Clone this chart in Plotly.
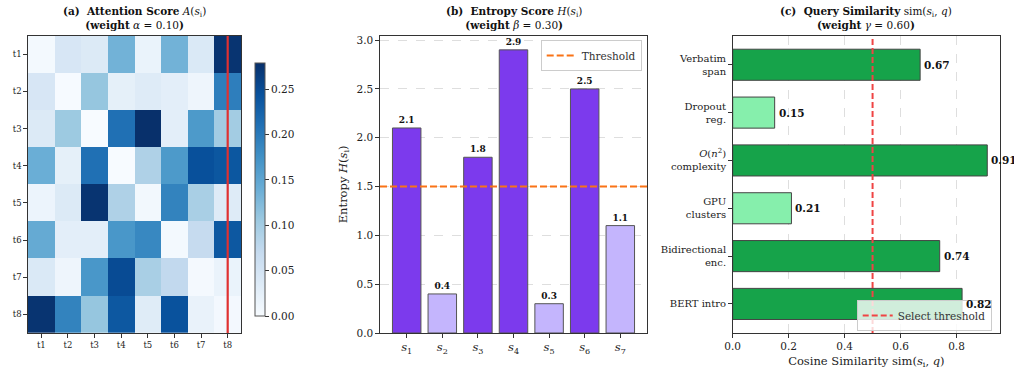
import plotly.graph_objects as go

# ---------------- data ----------------
tokens = ["t1", "t2", "t3", "t4", "t5", "t6", "t7", "t8"]
attn_t1 = [0.005, 0.045, 0.038, 0.135, 0.018, 0.135, 0.040, 0.275]
attn_t2 = [0.045, 0.002, 0.110, 0.025, 0.035, 0.028, 0.012, 0.195]
attn_t3 = [0.038, 0.105, 0.000, 0.210, 0.279, 0.028, 0.165, 0.100]
attn_t4 = [0.140, 0.025, 0.210, 0.000, 0.090, 0.165, 0.245, 0.238]
attn_t5 = [0.015, 0.038, 0.275, 0.090, 0.007, 0.190, 0.095, 0.035]
attn_t6 = [0.145, 0.028, 0.028, 0.168, 0.185, 0.005, 0.070, 0.237]
attn_t7 = [0.040, 0.013, 0.168, 0.250, 0.095, 0.073, 0.004, 0.018]
attn_t8 = [0.275, 0.190, 0.110, 0.237, 0.033, 0.243, 0.020, 0.006]
attn = [attn_t1, attn_t2, attn_t3, attn_t4, attn_t5, attn_t6, attn_t7, attn_t8]
highlight_token = 7

sentences = ["<i>s</i><sub>1</sub>", "<i>s</i><sub>2</sub>", "<i>s</i><sub>3</sub>", "<i>s</i><sub>4</sub>",
             "<i>s</i><sub>5</sub>", "<i>s</i><sub>6</sub>", "<i>s</i><sub>7</sub>"]
entropy = [2.1, 0.4, 1.8, 2.9, 0.3, 2.5, 1.1]
entropy_threshold = 1.5

sim_labels = ["BERT intro", "Bidirectional<br>enc.", "GPU<br>clusters",
              "<i>O</i>(<i>n</i><sup>2</sup>)<br>complexity", "Dropout<br>reg.", "Verbatim<br>span"]
similarity = [0.82, 0.74, 0.21, 0.91, 0.15, 0.67]
sim_threshold = 0.5

# ---------------- styling ----------------
W, H = 1014, 376
FONT = "DejaVu Serif"
SPINE = "#333333"
blues = [[0.0, "#f7fbff"], [0.125, "#deebf7"], [0.25, "#c6dbef"], [0.375, "#9ecae1"],
         [0.5, "#6baed6"], [0.625, "#4292c6"], [0.75, "#2171b5"], [0.875, "#08519c"], [1.0, "#08306b"]]
ydom = [1 - 333 / H, 1 - 35.7 / H]

fig = go.Figure()

# (a) heatmap
fig.add_trace(go.Heatmap(
    z=attn, x=list(range(8)), y=list(range(8)), colorscale=blues, zmin=0, zmax=max(max(r) for r in attn),
    xaxis="x", yaxis="y", showscale=True,
    colorbar=dict(x=255 / W, xanchor="left", xpad=0, ypad=0, thickness=10, len=253 / H, lenmode="fraction",
                  y=1 - 189.5 / H, yanchor="middle", outlinecolor="#555", outlinewidth=1,
                  tickvals=[0, 0.05, 0.10, 0.15, 0.20, 0.25], tickformat=".2f",
                  ticks="outside", ticklen=4, tickcolor=SPINE,
                  tickfont=dict(family=FONT, size=10.5, color="#222")),
))
fig.add_trace(go.Scatter(x=[highlight_token, highlight_token], y=[-0.5, 7.5], mode="lines",
                         line=dict(color="#e03131", width=2.2), xaxis="x", yaxis="y",
                         showlegend=False, hoverinfo="skip"))

# (b) entropy bars
bcolors = ["#7c3aed" if v > entropy_threshold else "#c4b5fd" for v in entropy]
fig.add_trace(go.Bar(
    x=list(range(len(entropy))), y=entropy, width=0.8, marker=dict(color=bcolors, line=dict(color="#555", width=1)),
    text=[f"<b>{v:.1f}</b>" for v in entropy], textposition="outside", cliponaxis=False,
    textfont=dict(family=FONT, size=9, color="#111"), xaxis="x2", yaxis="y2", showlegend=False,
))
fig.add_trace(go.Scatter(x=[-0.75, len(entropy) - 0.25], y=[entropy_threshold, entropy_threshold], mode="lines",
                         line=dict(color="#f97316", width=2, dash="7px,3px"), name="Threshold",
                         xaxis="x2", yaxis="y2", legend="legend"))

# (c) similarity bars
ccolors = ["#16a34a" if v > sim_threshold else "#86efac" for v in similarity]
fig.add_trace(go.Bar(
    y=list(range(len(similarity))), x=similarity, orientation="h", width=0.65,
    marker=dict(color=ccolors, line=dict(color="#444", width=1)),
    xaxis="x3", yaxis="y3", showlegend=False,
))
fig.add_trace(go.Scatter(x=[sim_threshold, sim_threshold], y=[-0.6075, len(similarity) - 0.3925], mode="lines",
                         line=dict(color="#ef4444", width=2, dash="6px,3px"), name="Select threshold",
                         xaxis="x3", yaxis="y3", legend="legend2"))
for i, v in enumerate(similarity):
    fig.add_annotation(x=v, y=i, xref="x3", yref="y3", xanchor="left", yanchor="middle", xshift=2,
                       text=f"<b>{v:.2f}</b>", showarrow=False,
                       font=dict(family=FONT, size=10.5, color="#111"))

axis_common = dict(showline=True, mirror=True, linecolor=SPINE, linewidth=1.2, ticks="outside",
                   ticklen=3.5, tickcolor=SPINE, zeroline=False, automargin=False)

fig.update_layout(
    width=W, height=H, margin=dict(l=0, r=0, t=0, b=0, autoexpand=False),
    paper_bgcolor="white", plot_bgcolor="white",
    font=dict(family=FONT, color="#222"),
    bargap=0.2,
    xaxis=dict(domain=[28 / W, 241 / W], range=[-0.5, 7.5], tickvals=list(range(8)), ticktext=tokens,
               showgrid=False, anchor="y", tickfont=dict(family=FONT, size=8.5, color="#222"), **axis_common),
    yaxis=dict(domain=ydom, range=[7.5, -0.5], tickvals=list(range(8)), ticktext=tokens,
               showgrid=False, anchor="x", tickfont=dict(family=FONT, size=8.5, color="#222"), **axis_common),
    xaxis2=dict(domain=[380 / W, 647 / W], range=[-0.75, len(entropy) - 0.25], tickvals=list(range(len(entropy))),
                ticktext=sentences, showgrid=False, anchor="y2",
                tickfont=dict(family=FONT, size=11.5, color="#222"), **axis_common),
    yaxis2=dict(domain=ydom, range=[0, 3.045], dtick=0.5, tickformat=".1f", anchor="x2",
                showgrid=True, gridcolor="#dedede", griddash="dash", gridwidth=0.8,
                title=dict(text="Entropy <i>H</i>(<i>s</i><sub>i</sub>)", font=dict(family=FONT, size=11.5), standoff=6),
                tickfont=dict(family=FONT, size=10.5, color="#222"), **axis_common),
    xaxis3=dict(domain=[732.7 / W, 1000 / W], range=[0, 0.9555], dtick=0.2, tickformat=".1f", anchor="y3",
                showgrid=True, gridcolor="#dedede", griddash="dash", gridwidth=0.8,
                title=dict(text="Cosine Similarity sim(<i>s</i><sub>i</sub>, <i>q</i>)", font=dict(family=FONT, size=11.5), standoff=5),
                tickfont=dict(family=FONT, size=10.5, color="#222"), **axis_common),
    yaxis3=dict(domain=ydom, range=[-0.6075, len(similarity) - 0.3925], tickvals=list(range(len(similarity))),
                ticktext=sim_labels, showgrid=False, anchor="x3",
                tickfont=dict(family=FONT, size=10, color="#222"), **axis_common),
    legend=dict(x=641.7 / W, xanchor="right", y=1 - 40 / H, yanchor="top", bgcolor="rgba(255,255,255,0.8)",
                bordercolor="#cccccc", borderwidth=1, font=dict(family=FONT, size=10.5, color="#333"),
                itemwidth=30, tracegroupgap=0),
    legend2=dict(x=991.7 / W, xanchor="right", y=1 - 331 / H, yanchor="bottom", bgcolor="rgba(255,255,255,0.8)",
                 bordercolor="#cccccc", borderwidth=1, font=dict(family=FONT, size=10.5, color="#333"),
                 itemwidth=30, tracegroupgap=0),
)

titles = [
    ((28 + 241) / 2, "<b>(a)  Attention Score</b> <i>A</i>(<i>s</i><sub>i</sub>)<br><b>(weight</b> <i>α</i> = 0.10<b>)</b>"),
    ((380 + 647) / 2, "<b>(b)  Entropy Score</b> <i>H</i>(<i>s</i><sub>i</sub>)<br><b>(weight</b> <i>β</i> = 0.30<b>)</b>"),
    ((732.7 + 1000) / 2, "<b>(c)  Query Similarity</b> sim(<i>s</i><sub>i</sub>, <i>q</i>)<br><b>(weight</b> <i>γ</i> = 0.60<b>)</b>"),
]
for xc, t in titles:
    fig.add_annotation(x=xc / W, y=1 - 3 / H, xref="paper", yref="paper", xanchor="center", yanchor="top",
                       text=t, showarrow=False, font=dict(family=FONT, size=10.5, color="#111"))

fig.write_html("out.html", config={"displayModeBar": False},
               post_script="document.body.style.margin='0';document.body.style.overflow='hidden';")
